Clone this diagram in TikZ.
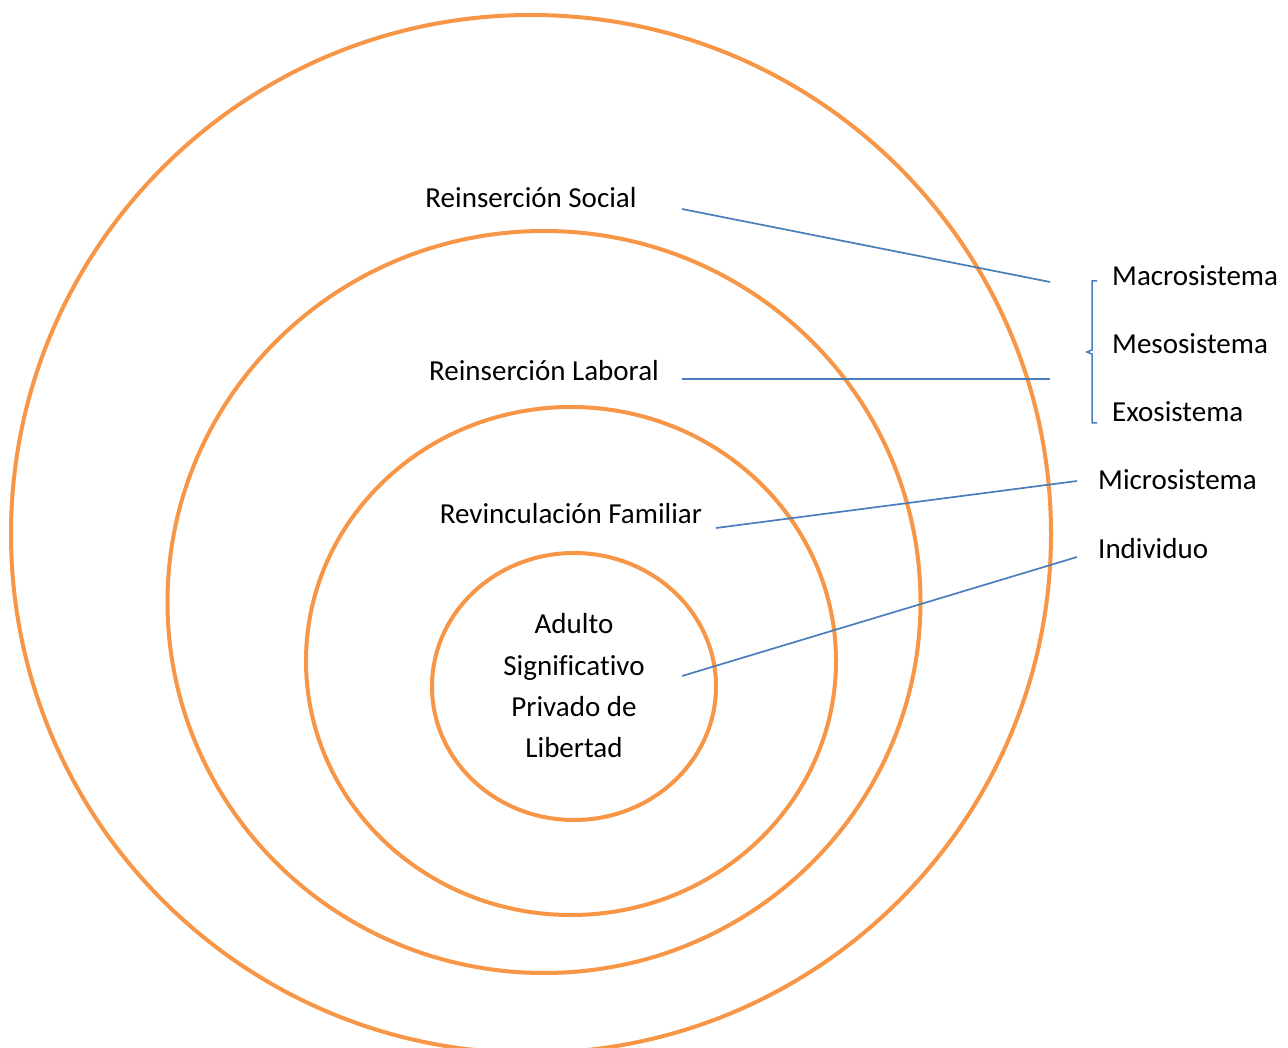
\documentclass[tikz,border=0pt]{standalone}
\usepackage{fontspec}
\setmainfont[Ligatures={NoCommon}]{Carlito}
\definecolor{ringorange}{HTML}{F79646}
\definecolor{leaderblue}{HTML}{4A7EBB}
\begin{document}
\begin{tikzpicture}[x=1pt,y=-1pt,
  ring/.style={draw=ringorange,line width=4pt},
  leader/.style={draw=leaderblue,line width=1.7pt},
  lbl/.style={inner sep=0pt,font=\fontsize{29}{41}\selectfont},
  every node/.style={lbl}]
\useasboundingbox (0,0) rectangle (1288,1048);
\fill[white] (0,0) rectangle (1288,1048);
\begin{scope}
\clip (0,0) rectangle (1288,1048);
\draw[ring] (531,534) ellipse [x radius=520pt, y radius=519pt];
\draw[ring] (544,602) ellipse [x radius=376.5pt, y radius=371pt];
\draw[ring] (571,661) ellipse [x radius=265pt, y radius=254pt];
\draw[ring] (574,686.5) ellipse [x radius=142pt, y radius=133.5pt];
\end{scope}
% circle labels
\node[anchor=base] (social) at (531,208) {Reinserción Social};
\node[anchor=base] (laboral) at (544,381) {Reinserción Laboral};
\node[anchor=base] (familiar) at (571,523) {Revinculación Familiar};
\node[anchor=base] (a1) at (574,633) {Adulto};
\node[anchor=base] (a2) at (574,675) {Significativo};
\node[anchor=base] (a3) at (574,716) {Privado de};
\node[anchor=base] (a4) at (574,757) {Libertad};
% right labels
\node[anchor=base west] (macro) at (1112,286) {Macrosistema};
\node[anchor=base west] (meso) at (1112,354) {Mesosistema};
\node[anchor=base west] (exo) at (1112,422) {Exosistema};
\node[anchor=base west] (micro) at (1098,489) {Microsistema};
\node[anchor=base west] (indiv) at (1098,558) {Individuo};
% leader end points
\coordinate (s1) at (682,209);
\coordinate (s2) at (1050,282);
\coordinate (l1) at (682,379);
\coordinate (l2) at (1050,379);
\coordinate (f1) at (716,528);
\coordinate (f2) at (1077,481);
\coordinate (i1) at (682,676);
\coordinate (i2) at (1077,557);
\draw[leader] (s1) -- (s2);
\draw[leader] (l1) -- (l2);
\draw[leader] (f1) -- (f2);
\draw[leader] (i1) -- (i2);
% brace
\coordinate (bt) at (1097,281);
\coordinate (bb) at (1097,423);
\coordinate (bm) at (1087,352);
\draw[leader,line width=1.5pt] (bt) -- (1092,281) -- (1092,350) -- (bm) -- (1092,354) -- (1092,423) -- (bb);
\end{tikzpicture}
\end{document}
